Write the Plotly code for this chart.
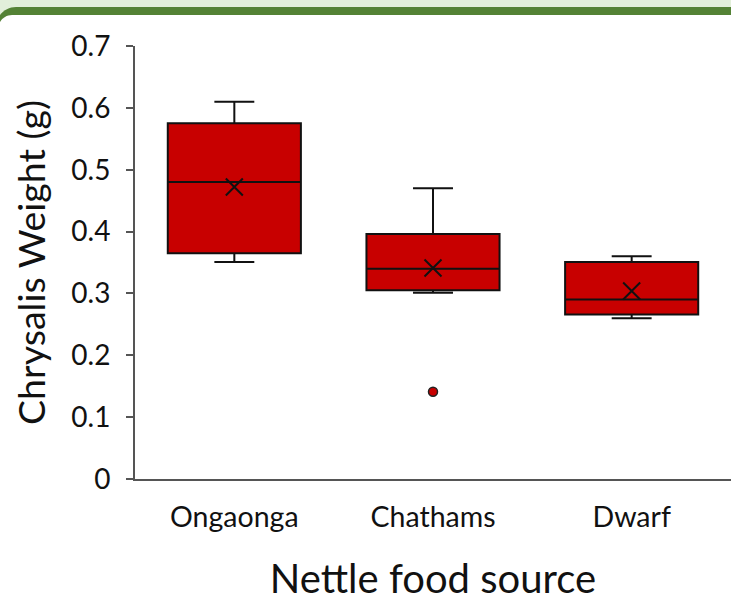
import plotly.graph_objects as go

# ---- data ----
categories = ["Ongaonga", "Chathams", "Dwarf"]
q1_vals = [0.365, 0.305, 0.266]
median_vals = [0.480, 0.340, 0.290]
q3_vals = [0.575, 0.396, 0.351]
lower_whisker = [0.351, 0.301, 0.260]
upper_whisker = [0.610, 0.470, 0.360]
mean_vals = [0.472, 0.341, 0.304]
outlier_cats = ["Chathams"]
outlier_vals = [0.141]
y_ticks = [0, 0.1, 0.2, 0.3, 0.4, 0.5, 0.6, 0.7]
y_tick_labels = ["0", "0.1", "0.2", "0.3", "0.4", "0.5", "0.6", "0.7"]

FONT = "Lato"
W, H = 731, 608
ML, MR, MT, MB = 135, 0, 46, 129
PW, PH = W - ML - MR, H - MT - MB

fig = go.Figure()
fig.add_trace(go.Box(
    x=categories, q1=q1_vals, median=median_vals, q3=q3_vals,
    lowerfence=lower_whisker, upperfence=upper_whisker,
    fillcolor="#c80000", line=dict(color="#111111", width=2),
    whiskerwidth=0.3, boxpoints=False, showlegend=False, hoverinfo="skip",
))
fig.add_trace(go.Scatter(
    x=categories, y=mean_vals, mode="markers",
    marker=dict(symbol="x-thin-open", size=17, color="#111111",
                line=dict(color="#111111", width=2)),
    showlegend=False, hoverinfo="skip",
))
fig.add_trace(go.Scatter(
    x=outlier_cats, y=outlier_vals, mode="markers",
    marker=dict(symbol="circle", size=9, color="#c80000",
                line=dict(color="#222222", width=1.5)),
    showlegend=False, hoverinfo="skip",
))

def px(x, y):
    a, b = (x - ML) / PW, (H - MB - y) / PH
    return f"{a:.5f},{b:.5f}"

K = 0.5523

def rounded_top(left, top, r, bottom, right=760):
    # region with a rounded top-left corner, in pixel coords
    return (f"M {px(left, bottom)} L {px(left, top + r)} "
            f"C {px(left, top + r - r * K)} {px(left + r - r * K, top)} {px(left + r, top)} "
            f"L {px(right, top)} L {px(right, bottom)} Z")

frame_bg = f"M {px(-10, -10)} L {px(760, -10)} L {px(760, 60)} L {px(-10, 60)} Z"
green_shape = rounded_top(-4, 7, 20, 70)
white_shape = rounded_top(-1.9, 15, 14, 90)

fig.update_layout(
    width=W, height=H,
    margin=dict(l=ML, r=MR, t=MT, b=MB, pad=0),
    paper_bgcolor="white", plot_bgcolor="rgba(0,0,0,0)",
    boxmode="overlay", boxgap=0.33, boxgroupgap=0,
    font=dict(family=FONT, color="#111111"),
    shapes=[
        dict(type="path", xref="paper", yref="paper", path=frame_bg,
             fillcolor="#e2efda", line=dict(width=0), layer="below"),
        dict(type="path", xref="paper", yref="paper", path=green_shape,
             fillcolor="#548235", line=dict(width=0), layer="below"),
        dict(type="path", xref="paper", yref="paper", path=white_shape,
             fillcolor="white", line=dict(width=0), layer="below"),
    ],
    xaxis=dict(
        range=[-0.5, 2.5], showline=True, linecolor="#555555", linewidth=2,
        ticks="", tickfont=dict(size=28.5, family=FONT, color="#111111"),
        ticklabelstandoff=12, showgrid=False, zeroline=False,
        title=dict(text="Nettle food source", font=dict(size=40, family=FONT, color="#111111"),
                   standoff=33),
    ),
    yaxis=dict(
        range=[0, 0.7], tickvals=y_ticks, ticktext=y_tick_labels,
        showline=True, linecolor="#555555", linewidth=2,
        ticks="outside", ticklen=7, tickwidth=2, tickcolor="#555555",
        tickfont=dict(size=28, family=FONT, color="#111111"),
        ticklabelstandoff=10, showgrid=False, zeroline=False,
        title=dict(text="Chrysalis Weight (g)", font=dict(size=37.5, family=FONT, color="#111111"),
                   standoff=14),
    ),
)

fig.write_html("out.html", config={"displayModeBar": False},
               post_script="document.body.style.margin='0';document.body.style.overflow='hidden';")
